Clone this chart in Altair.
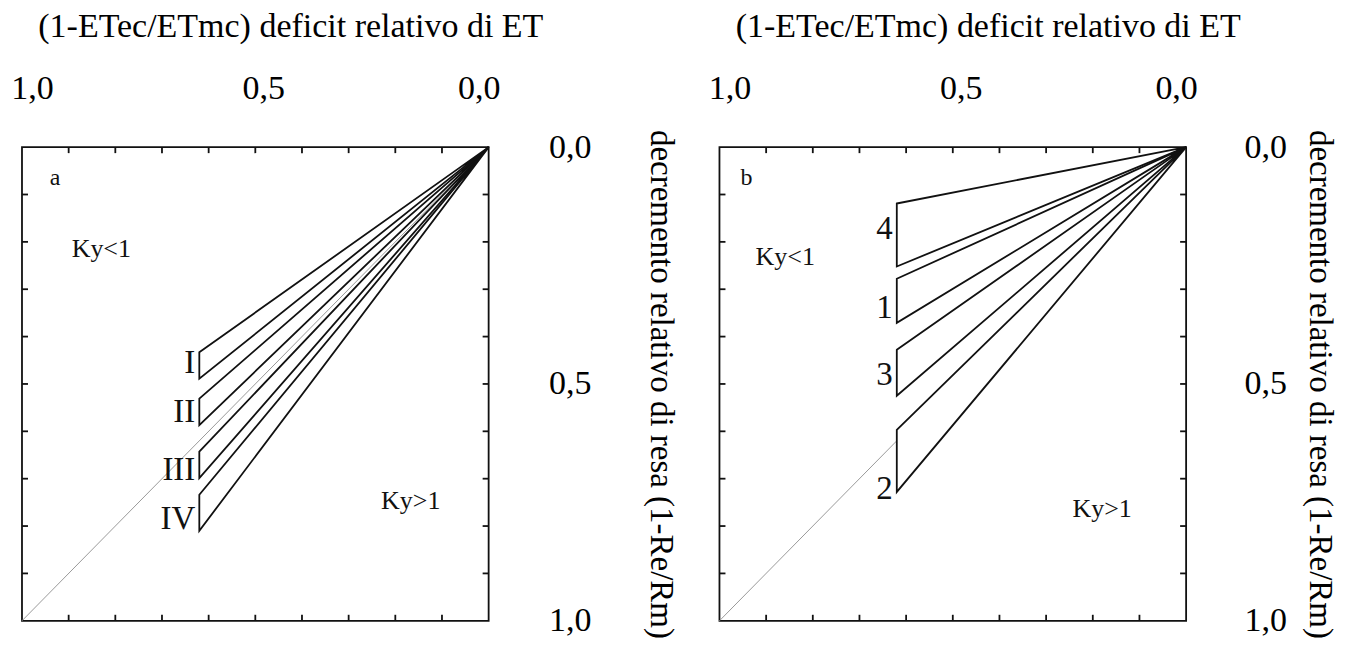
import altair as alt
import pandas as pd

FONT = "Liberation Serif"
W, H = 467, 474

# ---- data ----
minor_ticks = [0.1, 0.2, 0.3, 0.4, 0.5, 0.6, 0.7, 0.8, 0.9]
label_values = [0.0, 0.5, 1.0]
x_title = "(1-ETec/ETmc) deficit relativo di ET"
y_title = "decremento relativo di resa (1-Re/Rm)"

# panel a : wedges I-IV (relative ET deficit at the open end, yield decrease range)
a_x_end = 0.62
a_names = ["I", "II", "III", "IV"]
a_top = [0.433, 0.531, 0.643, 0.734]
a_bot = [0.489, 0.587, 0.699, 0.810]
a_label_y = [0.456, 0.560, 0.681, 0.786]

# panel b : wedges 4,1,3,2
b_x_end = 0.62
b_names = ["4", "1", "3", "2"]
b_top = [0.119, 0.278, 0.428, 0.597]
b_bot = [0.252, 0.371, 0.525, 0.728]
b_label_y = [0.172, 0.340, 0.482, 0.722]

# free annotations: text, x, y, size
a_notes = [("a", 0.929, 0.065, 24), ("Ky<1", 0.83, 0.215, 26), ("Ky>1", 0.167, 0.748, 26)]
b_notes = [("b", 0.942, 0.066, 24), ("Ky<1", 0.859, 0.232, 26), ("Ky>1", 0.18, 0.765, 26)]

LABEL_EXPR = "replace(format(datum.value, '.1f'), '.', ',')"


def make_panel(x_end, names, tops, bots, label_ys, notes, r_label_pad, r_title_pad):
    x_axis = alt.Axis(orient="top", values=label_values, labelExpr=LABEL_EXPR,
                      ticks=False, tickSize=0, domain=False, grid=False,
                      labelFont=FONT, labelFontSize=34, labelColor="black",
                      labelPadding=42, labelFlush=False, labelOverlap=False,
                      labelOffset={"condition": [{"test": "datum.value == 1", "value": 10},
                                                 {"test": "datum.value == 0", "value": -10}],
                                   "value": 8},
                      title=x_title, titleFont=FONT, titleFontSize=34,
                      titleFontWeight="normal", titleColor="black",
                      titlePadding=28, titleX=W / 2 + 35)
    y_axis = alt.Axis(orient="right", values=label_values, labelExpr=LABEL_EXPR,
                      ticks=False, tickSize=0, domain=False, grid=False,
                      labelFont=FONT, labelFontSize=34, labelColor="black",
                      labelPadding=r_label_pad, labelFlush=False, labelOverlap=False,
                      title=y_title, titleFont=FONT, titleFontSize=33,
                      titleFontWeight="normal", titleColor="black",
                      titlePadding=r_title_pad)
    xs = alt.Scale(domain=[0, 1], reverse=True, nice=False, zero=False)
    ys = alt.Scale(domain=[0, 1], reverse=True, nice=False, zero=False)

    def X(f):
        return alt.X(f, type="quantitative", scale=xs, axis=x_axis, title=x_title)

    def Y(f):
        return alt.Y(f, type="quantitative", scale=ys, axis=y_axis, title=y_title)

    diag = pd.DataFrame({"x": [0.0, 1.0], "y": [0.0, 1.0]})
    rows = []
    for n, t, b in zip(names, tops, bots):
        rows.append({"w": n, "x": 0.0, "y": 0.0, "y2": 0.0})
        rows.append({"w": n, "x": x_end, "y": t, "y2": b})
    wedges = pd.DataFrame(rows)
    labels = pd.DataFrame({"t": names, "x": [x_end] * len(names), "y": label_ys})
    ticks = pd.DataFrame({"v": minor_ticks})
    nt = pd.DataFrame({"t": [n[0] for n in notes], "x": [n[1] for n in notes],
                       "y": [n[2] for n in notes], "s": [n[3] for n in notes]})

    base_diag = alt.Chart(diag).mark_line(color="#9a9a9a", strokeWidth=1).encode(
        x=X("x"), y=Y("y"))
    wedge_layer = alt.Chart(wedges).mark_area(
        fill="white", stroke="#111111", strokeWidth=1.8, strokeJoin="miter",
        fillOpacity=1,
    ).encode(x=X("x"), y=Y("y"), y2="y2:Q", detail="w:N")
    rule = dict(color="#111111", strokeWidth=1.8)
    top_t = alt.Chart(ticks).mark_rule(**rule).encode(
        x=X("v"), y=alt.value(0), y2=alt.value(6))
    bot_t = alt.Chart(ticks).mark_rule(**rule).encode(
        x=X("v"), y=alt.value(H), y2=alt.value(H - 6))
    left_t = alt.Chart(ticks).mark_rule(**rule).encode(
        y=Y("v"), x=alt.value(0), x2=alt.value(6))
    right_t = alt.Chart(ticks).mark_rule(**rule).encode(
        y=Y("v"), x=alt.value(W), x2=alt.value(W - 6))
    lab = alt.Chart(labels).mark_text(
        font=FONT, fontSize=33, align="right", baseline="middle", dx=-4, color="#111111"
    ).encode(x=X("x"), y=Y("y"), text="t:N")
    notes_l = alt.Chart(nt).mark_text(
        font=FONT, align="center", baseline="middle", color="#111111"
    ).encode(x=X("x"), y=Y("y"), text="t:N",
             size=alt.Size("s:Q", scale=None, legend=None))

    return alt.layer(base_diag, wedge_layer, top_t, bot_t, left_t, right_t, lab, notes_l).properties(
        width=W, height=H)


pa = make_panel(a_x_end, a_names, a_top, a_bot, a_label_y, a_notes, 60, 52)
pb = make_panel(b_x_end, b_names, b_top, b_bot, b_label_y, b_notes, 58, 16)

chart = alt.hconcat(pa, pb, spacing=29).configure(
    padding={"left": 1, "top": 0, "right": 6, "bottom": 0},
    background="white",
).configure_view(stroke="#111111", strokeWidth=1.8)

chart.save("out.html", embed_options={"renderer": "svg", "actions": False})
